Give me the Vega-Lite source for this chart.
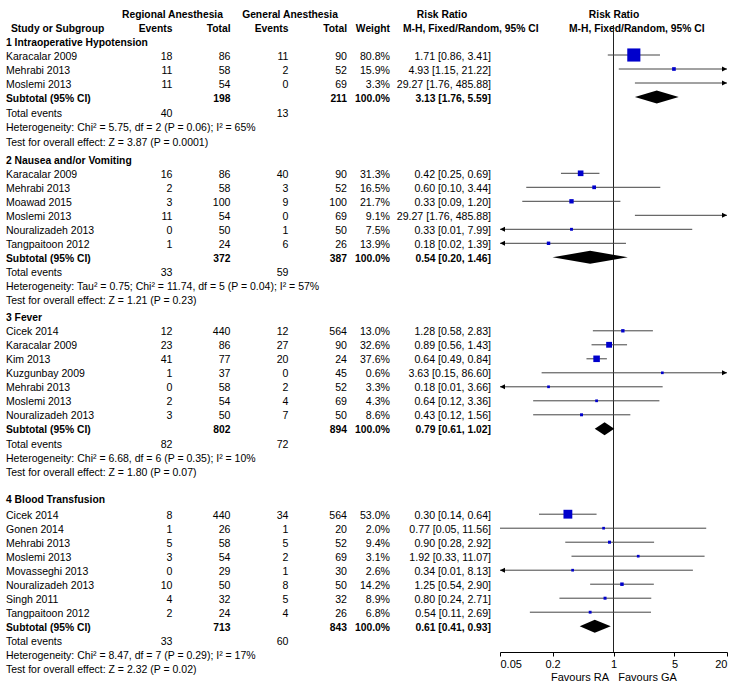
{
  "$schema": "https://vega.github.io/schema/vega-lite/v6.json",
  "width": 737,
  "height": 687,
  "autosize": {"type": "none"},
  "padding": 0,
  "background": "white",
  "config": {
    "view": {"stroke": null},
    "text": {"font": "Liberation Sans", "color": "black"},
    "axis": {"labelFont": "Liberation Sans", "titleFont": "Liberation Sans"}
  },
  "datasets": {
    "table": [
      {"row": 0, "kind": "h1", "ra_h": "Regional Anesthesia", "ga_h": "General Anesthesia", "rr_h": "Risk Ratio", "fp_h": "Risk Ratio"},
      {"row": 1, "kind": "h2", "label": "Study or Subgroup", "ra_e": "Events", "ra_n": "Total", "ga_e": "Events", "ga_n": "Total", "w_h": "Weight", "rr_h": "M-H, Fixed/Random, 95% CI", "fp_h": "M-H, Fixed/Random, 95% CI"},
      {"row": 2, "kind": "group", "label": "1 Intraoperative Hypotension"},
      {"row": 3, "kind": "study", "label": "Karacalar 2009", "ra_e": 18, "ra_n": 86, "ga_e": 11, "ga_n": 90, "weight": 0.808, "rr": 1.71, "lo": 0.86, "hi": 3.41, "ci": "1.71 [0.86, 3.41]"},
      {"row": 4, "kind": "study", "label": "Mehrabi 2013", "ra_e": 11, "ra_n": 58, "ga_e": 2, "ga_n": 52, "weight": 0.159, "rr": 4.93, "lo": 1.15, "hi": 21.22, "ci": "4.93 [1.15, 21.22]"},
      {"row": 5, "kind": "study", "label": "Moslemi 2013", "ra_e": 11, "ra_n": 54, "ga_e": 0, "ga_n": 69, "weight": 0.033, "rr": 29.27, "lo": 1.76, "hi": 485.88, "ci": "29.27 [1.76, 485.88]"},
      {"row": 6, "kind": "subtotal", "label": "Subtotal (95% CI)", "ra_n": 198, "ga_n": 211, "weight": 1, "rr": 3.13, "lo": 1.76, "hi": 5.59, "ci": "3.13 [1.76, 5.59]"},
      {"row": 7.1, "kind": "total", "label": "Total events", "ra_e": 40, "ga_e": 13},
      {"row": 8.1, "kind": "note", "label": "Heterogeneity: Chi² = 5.75, df = 2 (P = 0.06); I² = 65%"},
      {"row": 9.15, "kind": "note", "label": "Test for overall effect: Z = 3.87 (P = 0.0001)"},
      {"row": 10.45, "kind": "group", "label": "2 Nausea and/or Vomiting"},
      {"row": 11.45, "kind": "study", "label": "Karacalar 2009", "ra_e": 16, "ra_n": 86, "ga_e": 40, "ga_n": 90, "weight": 0.313, "rr": 0.42, "lo": 0.25, "hi": 0.69, "ci": "0.42 [0.25, 0.69]"},
      {"row": 12.45, "kind": "study", "label": "Mehrabi 2013", "ra_e": 2, "ra_n": 58, "ga_e": 3, "ga_n": 52, "weight": 0.165, "rr": 0.6, "lo": 0.1, "hi": 3.44, "ci": "0.60 [0.10, 3.44]"},
      {"row": 13.45, "kind": "study", "label": "Moawad 2015", "ra_e": 3, "ra_n": 100, "ga_e": 9, "ga_n": 100, "weight": 0.217, "rr": 0.33, "lo": 0.09, "hi": 1.2, "ci": "0.33 [0.09, 1.20]"},
      {"row": 14.45, "kind": "study", "label": "Moslemi 2013", "ra_e": 11, "ra_n": 54, "ga_e": 0, "ga_n": 69, "weight": 0.091, "rr": 29.27, "lo": 1.76, "hi": 485.88, "ci": "29.27 [1.76, 485.88]"},
      {"row": 15.45, "kind": "study", "label": "Nouralizadeh 2013", "ra_e": 0, "ra_n": 50, "ga_e": 1, "ga_n": 50, "weight": 0.075, "rr": 0.33, "lo": 0.01, "hi": 7.99, "ci": "0.33 [0.01, 7.99]"},
      {"row": 16.45, "kind": "study", "label": "Tangpaitoon 2012", "ra_e": 1, "ra_n": 24, "ga_e": 6, "ga_n": 26, "weight": 0.139, "rr": 0.18, "lo": 0.02, "hi": 1.39, "ci": "0.18 [0.02, 1.39]"},
      {"row": 17.45, "kind": "subtotal", "label": "Subtotal (95% CI)", "ra_n": 372, "ga_n": 387, "weight": 1, "rr": 0.54, "lo": 0.2, "hi": 1.46, "ci": "0.54 [0.20, 1.46]"},
      {"row": 18.5, "kind": "total", "label": "Total events", "ra_e": 33, "ga_e": 59},
      {"row": 19.5, "kind": "note", "label": "Heterogeneity: Tau² = 0.75; Chi² = 11.74, df = 5 (P = 0.04); I² = 57%"},
      {"row": 20.5, "kind": "note", "label": "Test for overall effect: Z = 1.21 (P = 0.23)"},
      {"row": 21.7, "kind": "group", "label": "3 Fever"},
      {"row": 22.7, "kind": "study", "label": "Cicek 2014", "ra_e": 12, "ra_n": 440, "ga_e": 12, "ga_n": 564, "weight": 0.13, "rr": 1.28, "lo": 0.58, "hi": 2.83, "ci": "1.28 [0.58, 2.83]"},
      {"row": 23.7, "kind": "study", "label": "Karacalar 2009", "ra_e": 23, "ra_n": 86, "ga_e": 27, "ga_n": 90, "weight": 0.326, "rr": 0.89, "lo": 0.56, "hi": 1.43, "ci": "0.89 [0.56, 1.43]"},
      {"row": 24.7, "kind": "study", "label": "Kim 2013", "ra_e": 41, "ra_n": 77, "ga_e": 20, "ga_n": 24, "weight": 0.376, "rr": 0.64, "lo": 0.49, "hi": 0.84, "ci": "0.64 [0.49, 0.84]"},
      {"row": 25.7, "kind": "study", "label": "Kuzgunbay 2009", "ra_e": 1, "ra_n": 37, "ga_e": 0, "ga_n": 45, "weight": 0.006, "rr": 3.63, "lo": 0.15, "hi": 86.6, "ci": "3.63 [0.15, 86.60]"},
      {"row": 26.7, "kind": "study", "label": "Mehrabi 2013", "ra_e": 0, "ra_n": 58, "ga_e": 2, "ga_n": 52, "weight": 0.033, "rr": 0.18, "lo": 0.01, "hi": 3.66, "ci": "0.18 [0.01, 3.66]"},
      {"row": 27.7, "kind": "study", "label": "Moslemi 2013", "ra_e": 2, "ra_n": 54, "ga_e": 4, "ga_n": 69, "weight": 0.043, "rr": 0.64, "lo": 0.12, "hi": 3.36, "ci": "0.64 [0.12, 3.36]"},
      {"row": 28.7, "kind": "study", "label": "Nouralizadeh 2013", "ra_e": 3, "ra_n": 50, "ga_e": 7, "ga_n": 50, "weight": 0.086, "rr": 0.43, "lo": 0.12, "hi": 1.56, "ci": "0.43 [0.12, 1.56]"},
      {"row": 29.7, "kind": "subtotal", "label": "Subtotal (95% CI)", "ra_n": 802, "ga_n": 894, "weight": 1, "rr": 0.79, "lo": 0.61, "hi": 1.02, "ci": "0.79 [0.61, 1.02]"},
      {"row": 30.75, "kind": "total", "label": "Total events", "ra_e": 82, "ga_e": 72},
      {"row": 31.75, "kind": "note", "label": "Heterogeneity: Chi² = 6.68, df = 6 (P = 0.35); I² = 10%"},
      {"row": 32.75, "kind": "note", "label": "Test for overall effect: Z = 1.80 (P = 0.07)"},
      {"row": 34.7, "kind": "group", "label": "4 Blood Transfusion"},
      {"row": 35.8, "kind": "study", "label": "Cicek 2014", "ra_e": 8, "ra_n": 440, "ga_e": 34, "ga_n": 564, "weight": 0.53, "rr": 0.3, "lo": 0.14, "hi": 0.64, "ci": "0.30 [0.14, 0.64]"},
      {"row": 36.8, "kind": "study", "label": "Gonen 2014", "ra_e": 1, "ra_n": 26, "ga_e": 1, "ga_n": 20, "weight": 0.02, "rr": 0.77, "lo": 0.05, "hi": 11.56, "ci": "0.77 [0.05, 11.56]"},
      {"row": 37.8, "kind": "study", "label": "Mehrabi 2013", "ra_e": 5, "ra_n": 58, "ga_e": 5, "ga_n": 52, "weight": 0.094, "rr": 0.9, "lo": 0.28, "hi": 2.92, "ci": "0.90 [0.28, 2.92]"},
      {"row": 38.8, "kind": "study", "label": "Moslemi 2013", "ra_e": 3, "ra_n": 54, "ga_e": 2, "ga_n": 69, "weight": 0.031, "rr": 1.92, "lo": 0.33, "hi": 11.07, "ci": "1.92 [0.33, 11.07]"},
      {"row": 39.8, "kind": "study", "label": "Movasseghi 2013", "ra_e": 0, "ra_n": 29, "ga_e": 1, "ga_n": 30, "weight": 0.026, "rr": 0.34, "lo": 0.01, "hi": 8.13, "ci": "0.34 [0.01, 8.13]"},
      {"row": 40.8, "kind": "study", "label": "Nouralizadeh 2013", "ra_e": 10, "ra_n": 50, "ga_e": 8, "ga_n": 50, "weight": 0.142, "rr": 1.25, "lo": 0.54, "hi": 2.9, "ci": "1.25 [0.54, 2.90]"},
      {"row": 41.8, "kind": "study", "label": "Singh 2011", "ra_e": 4, "ra_n": 32, "ga_e": 5, "ga_n": 32, "weight": 0.089, "rr": 0.8, "lo": 0.24, "hi": 2.71, "ci": "0.80 [0.24, 2.71]"},
      {"row": 42.8, "kind": "study", "label": "Tangpaitoon 2012", "ra_e": 2, "ra_n": 24, "ga_e": 4, "ga_n": 26, "weight": 0.068, "rr": 0.54, "lo": 0.11, "hi": 2.69, "ci": "0.54 [0.11, 2.69]"},
      {"row": 43.8, "kind": "subtotal", "label": "Subtotal (95% CI)", "ra_n": 713, "ga_n": 843, "weight": 1, "rr": 0.61, "lo": 0.41, "hi": 0.93, "ci": "0.61 [0.41, 0.93]"},
      {"row": 44.85, "kind": "total", "label": "Total events", "ra_e": 33, "ga_e": 60},
      {"row": 45.85, "kind": "note", "label": "Heterogeneity: Chi² = 8.47, df = 7 (P = 0.29); I² = 17%"},
      {"row": 46.85, "kind": "note", "label": "Test for overall effect: Z = 2.32 (P = 0.02)"}
    ],
    "null_effect": [
      {"ratio": 1, "top": 0.86, "bottom": 45.64}
    ]
  },
  "data": {"name": "table"},
  "encoding": {
    "y": {"field": "row", "type": "quantitative", "scale": {"domain": [-0.9286, 48.143], "reverse": true, "nice": false, "zero": false}, "axis": null}
  },
  "layer": [
    {
      "layer": [
        {
          "data": {"values": [{}]},
          "mark": {"type": "rule", "color": "#666666", "strokeWidth": 1.5},
          "encoding": {
            "x": {"datum": 0, "type": "quantitative", "scale": {"domain": [0, 737], "nice": false, "zero": false}, "axis": null},
            "x2": {"datum": 737},
            "y": {"datum": 1.29, "type": "quantitative"}
          }
        },
        {
          "transform": [{"filter": "isValid(datum.label) && datum.kind !== 'h2'"}],
          "mark": {"type": "text", "align": "left", "baseline": "middle", "dy": 1.5,
                   "fontWeight": {"expr": "indexof(['h1','h2','group','subtotal'], datum.kind) >= 0 ? 'bold' : 'normal'"},
                   "fontSize": {"expr": "indexof(['h1','h2','group','subtotal'], datum.kind) >= 0 ? 10.3 : 10.5"}},
          "encoding": {
            "x": {"datum": 6, "type": "quantitative", "scale": {"domain": [0, 737], "nice": false, "zero": false}, "axis": null},
            "text": {"field": "label", "type": "nominal"}
          }
        },
        {
          "transform": [{"filter": "datum.kind === 'h2'"}],
          "mark": {"type": "text", "align": "left", "baseline": "middle", "dy": 1.5, "fontWeight": "bold", "fontSize": 10.3},
          "encoding": {
            "x": {"datum": 11, "type": "quantitative", "scale": {"domain": [0, 737], "nice": false, "zero": false}, "axis": null},
            "text": {"field": "label", "type": "nominal"}
          }
        },
        {
          "transform": [{"filter": "isValid(datum.ra_e)"}],
          "mark": {"type": "text", "align": "right", "baseline": "middle", "dy": 1.5,
                   "fontWeight": {"expr": "indexof(['h1','h2','group','subtotal'], datum.kind) >= 0 ? 'bold' : 'normal'"},
                   "fontSize": {"expr": "indexof(['h1','h2','group','subtotal'], datum.kind) >= 0 ? 10.3 : 10.6"}},
          "encoding": {
            "x": {"datum": 172.5, "type": "quantitative", "scale": {"domain": [0, 737], "nice": false, "zero": false}, "axis": null},
            "text": {"field": "ra_e", "type": "nominal"}
          }
        },
        {
          "transform": [{"filter": "isValid(datum.ra_n)"}],
          "mark": {"type": "text", "align": "right", "baseline": "middle", "dy": 1.5,
                   "fontWeight": {"expr": "indexof(['h1','h2','group','subtotal'], datum.kind) >= 0 ? 'bold' : 'normal'"},
                   "fontSize": {"expr": "indexof(['h1','h2','group','subtotal'], datum.kind) >= 0 ? 10.3 : 10.6"}},
          "encoding": {
            "x": {"datum": 230.5, "type": "quantitative", "scale": {"domain": [0, 737], "nice": false, "zero": false}, "axis": null},
            "text": {"field": "ra_n", "type": "nominal"}
          }
        },
        {
          "transform": [{"filter": "isValid(datum.ga_e)"}],
          "mark": {"type": "text", "align": "right", "baseline": "middle", "dy": 1.5,
                   "fontWeight": {"expr": "indexof(['h1','h2','group','subtotal'], datum.kind) >= 0 ? 'bold' : 'normal'"},
                   "fontSize": {"expr": "indexof(['h1','h2','group','subtotal'], datum.kind) >= 0 ? 10.3 : 10.6"}},
          "encoding": {
            "x": {"datum": 288.5, "type": "quantitative", "scale": {"domain": [0, 737], "nice": false, "zero": false}, "axis": null},
            "text": {"field": "ga_e", "type": "nominal"}
          }
        },
        {
          "transform": [{"filter": "isValid(datum.ga_n)"}],
          "mark": {"type": "text", "align": "right", "baseline": "middle", "dy": 1.5,
                   "fontWeight": {"expr": "indexof(['h1','h2','group','subtotal'], datum.kind) >= 0 ? 'bold' : 'normal'"},
                   "fontSize": {"expr": "indexof(['h1','h2','group','subtotal'], datum.kind) >= 0 ? 10.3 : 10.6"}},
          "encoding": {
            "x": {"datum": 347, "type": "quantitative", "scale": {"domain": [0, 737], "nice": false, "zero": false}, "axis": null},
            "text": {"field": "ga_n", "type": "nominal"}
          }
        },
        {
          "transform": [{"filter": "isValid(datum.weight)"}],
          "mark": {"type": "text", "align": "right", "baseline": "middle", "dy": 1.5,
                   "fontWeight": {"expr": "indexof(['h1','h2','group','subtotal'], datum.kind) >= 0 ? 'bold' : 'normal'"},
                   "fontSize": {"expr": "indexof(['h1','h2','group','subtotal'], datum.kind) >= 0 ? 10.3 : 10.6"}},
          "encoding": {
            "x": {"datum": 390, "type": "quantitative", "scale": {"domain": [0, 737], "nice": false, "zero": false}, "axis": null},
            "text": {"field": "weight", "type": "quantitative", "format": ".1%"}
          }
        },
        {
          "transform": [{"filter": "isValid(datum.w_h)"}],
          "mark": {"type": "text", "align": "right", "baseline": "middle", "dy": 1.5, "fontWeight": "bold", "fontSize": 10.3},
          "encoding": {
            "x": {"datum": 390, "type": "quantitative", "scale": {"domain": [0, 737], "nice": false, "zero": false}, "axis": null},
            "text": {"field": "w_h", "type": "nominal"}
          }
        },
        {
          "transform": [{"filter": "isValid(datum.ci)"}],
          "mark": {"type": "text", "align": "right", "baseline": "middle", "dy": 1.5,
                   "fontWeight": {"expr": "indexof(['h1','h2','group','subtotal'], datum.kind) >= 0 ? 'bold' : 'normal'"},
                   "fontSize": {"expr": "indexof(['h1','h2','group','subtotal'], datum.kind) >= 0 ? 10.3 : 10.6"}},
          "encoding": {
            "x": {"datum": 491, "type": "quantitative", "scale": {"domain": [0, 737], "nice": false, "zero": false}, "axis": null},
            "text": {"field": "ci", "type": "nominal"}
          }
        },
        {
          "transform": [{"filter": "datum.kind === 'h1'"}],
          "mark": {"type": "text", "align": "center", "baseline": "middle", "dy": 1.5, "fontWeight": "bold", "fontSize": 10.3},
          "encoding": {
            "x": {"datum": 172.5, "type": "quantitative", "scale": {"domain": [0, 737], "nice": false, "zero": false}, "axis": null},
            "text": {"field": "ra_h", "type": "nominal"}
          }
        },
        {
          "transform": [{"filter": "datum.kind === 'h1'"}],
          "mark": {"type": "text", "align": "center", "baseline": "middle", "dy": 1.5, "fontWeight": "bold", "fontSize": 10.3},
          "encoding": {
            "x": {"datum": 290, "type": "quantitative", "scale": {"domain": [0, 737], "nice": false, "zero": false}, "axis": null},
            "text": {"field": "ga_h", "type": "nominal"}
          }
        },
        {
          "transform": [{"filter": "datum.kind === 'h1'"}],
          "mark": {"type": "text", "align": "center", "baseline": "middle", "dy": 1.5, "fontWeight": "bold", "fontSize": 10.3},
          "encoding": {
            "x": {"datum": 442, "type": "quantitative", "scale": {"domain": [0, 737], "nice": false, "zero": false}, "axis": null},
            "text": {"field": "rr_h", "type": "nominal"}
          }
        },
        {
          "transform": [{"filter": "datum.kind === 'h2'"}],
          "mark": {"type": "text", "align": "left", "baseline": "middle", "dy": 1.5, "fontWeight": "bold", "fontSize": 10.3},
          "encoding": {
            "x": {"datum": 403, "type": "quantitative", "scale": {"domain": [0, 737], "nice": false, "zero": false}, "axis": null},
            "text": {"field": "rr_h", "type": "nominal"}
          }
        },
        {
          "transform": [{"filter": "datum.kind === 'h1'"}],
          "mark": {"type": "text", "align": "center", "baseline": "middle", "dy": 1.5, "fontWeight": "bold", "fontSize": 10.3},
          "encoding": {
            "x": {"datum": 614, "type": "quantitative", "scale": {"domain": [0, 737], "nice": false, "zero": false}, "axis": null},
            "text": {"field": "fp_h", "type": "nominal"}
          }
        },
        {
          "transform": [{"filter": "datum.kind === 'h2'"}],
          "mark": {"type": "text", "align": "left", "baseline": "middle", "dy": 1.5, "fontWeight": "bold", "fontSize": 10.3},
          "encoding": {
            "x": {"datum": 569, "type": "quantitative", "scale": {"domain": [0, 737], "nice": false, "zero": false}, "axis": null},
            "text": {"field": "fp_h", "type": "nominal"}
          }
        }
      ]
    },
    {
      "layer": [
        {
          "data": {"name": "null_effect"},
          "mark": {"type": "rule", "color": "#222222", "strokeWidth": 1},
          "encoding": {
            "x": {"field": "ratio", "type": "quantitative",
                  "scale": {"type": "log", "domain": [0.05, 20], "range": [500, 727], "clamp": true, "nice": false},
                  "axis": {"values": [0.05, 0.2, 1, 5, 20], "format": "~g", "offset": -35, "title": "Favours RA\u00a0\u00a0\u00a0Favours GA", "titleFontWeight": "normal", "titleFontSize": 11, "titlePadding": 2, "titleColor": "black", "labelFontSize": 11, "labelPadding": 2, "labelColor": "black", "labelFlush": true, "tickSize": 4, "tickColor": "black", "domainColor": "black", "grid": false}},
            "y": {"field": "top", "type": "quantitative"},
            "y2": {"field": "bottom"}
          }
        },
        {
          "transform": [{"filter": "datum.kind === 'study'"}],
          "mark": {"type": "rule", "color": "#444444", "strokeWidth": 1},
          "encoding": {
            "x": {"field": "lo", "type": "quantitative",
                  "scale": {"type": "log", "domain": [0.05, 20], "range": [500, 727], "clamp": true, "nice": false},
                  "axis": {"values": [0.05, 0.2, 1, 5, 20], "format": "~g", "offset": -35, "title": "Favours RA\u00a0\u00a0\u00a0Favours GA", "titleFontWeight": "normal", "titleFontSize": 11, "titlePadding": 2, "titleColor": "black", "labelFontSize": 11, "labelPadding": 2, "labelColor": "black", "labelFlush": true, "tickSize": 4, "tickColor": "black", "domainColor": "black", "grid": false}},
            "x2": {"field": "hi"}
          }
        },
        {
          "transform": [{"filter": "datum.kind === 'study' && datum.rr >= 0.05 && datum.rr <= 20"}],
          "mark": {"type": "point", "shape": "square", "filled": true, "opacity": 1, "color": "#0000cc", "strokeWidth": 0},
          "encoding": {
            "x": {"field": "rr", "type": "quantitative",
                  "scale": {"type": "log", "domain": [0.05, 20], "range": [500, 727], "clamp": true, "nice": false},
                  "axis": {"values": [0.05, 0.2, 1, 5, 20], "format": "~g", "offset": -35, "title": "Favours RA\u00a0\u00a0\u00a0Favours GA", "titleFontWeight": "normal", "titleFontSize": 11, "titlePadding": 2, "titleColor": "black", "labelFontSize": 11, "labelPadding": 2, "labelColor": "black", "labelFlush": true, "tickSize": 4, "tickColor": "black", "domainColor": "black", "grid": false}},
            "size": {"field": "weight", "type": "quantitative", "scale": {"type": "pow", "exponent": 2, "domain": [0, 1], "range": [7, 260]}, "legend": null}
          }
        },
        {
          "transform": [{"filter": "datum.kind === 'study' && datum.hi > 20"}],
          "mark": {"type": "point", "shape": "M0,0L-2,-1L-2,1Z", "size": 25, "filled": true, "opacity": 1, "color": "black", "strokeWidth": 0},
          "encoding": {
            "x": {"field": "hi", "type": "quantitative",
                  "scale": {"type": "log", "domain": [0.05, 20], "range": [500, 727], "clamp": true, "nice": false},
                  "axis": {"values": [0.05, 0.2, 1, 5, 20], "format": "~g", "offset": -35, "title": "Favours RA\u00a0\u00a0\u00a0Favours GA", "titleFontWeight": "normal", "titleFontSize": 11, "titlePadding": 2, "titleColor": "black", "labelFontSize": 11, "labelPadding": 2, "labelColor": "black", "labelFlush": true, "tickSize": 4, "tickColor": "black", "domainColor": "black", "grid": false}}
          }
        },
        {
          "transform": [{"filter": "datum.kind === 'study' && datum.lo < 0.05"}],
          "mark": {"type": "point", "shape": "M0,0L2,-1L2,1Z", "size": 25, "filled": true, "opacity": 1, "color": "black", "strokeWidth": 0},
          "encoding": {
            "x": {"field": "lo", "type": "quantitative",
                  "scale": {"type": "log", "domain": [0.05, 20], "range": [500, 727], "clamp": true, "nice": false},
                  "axis": {"values": [0.05, 0.2, 1, 5, 20], "format": "~g", "offset": -35, "title": "Favours RA\u00a0\u00a0\u00a0Favours GA", "titleFontWeight": "normal", "titleFontSize": 11, "titlePadding": 2, "titleColor": "black", "labelFontSize": 11, "labelPadding": 2, "labelColor": "black", "labelFlush": true, "tickSize": 4, "tickColor": "black", "domainColor": "black", "grid": false}}
          }
        },
        {
          "transform": [
            {"filter": "datum.kind === 'subtotal'"},
            {"fold": ["lo", "rr", "hi"], "as": ["k", "v"]}
          ],
          "mark": {"type": "area", "color": "black", "opacity": 1,
                   "yOffset": {"expr": "datum.k === 'rr' ? -6.5 : 0"},
                   "y2Offset": {"expr": "datum.k === 'rr' ? 6.5 : 0"}},
          "encoding": {
            "x": {"field": "v", "type": "quantitative",
                  "scale": {"type": "log", "domain": [0.05, 20], "range": [500, 727], "clamp": true, "nice": false},
                  "axis": {"values": [0.05, 0.2, 1, 5, 20], "format": "~g", "offset": -35, "title": "Favours RA\u00a0\u00a0\u00a0Favours GA", "titleFontWeight": "normal", "titleFontSize": 11, "titlePadding": 2, "titleColor": "black", "labelFontSize": 11, "labelPadding": 2, "labelColor": "black", "labelFlush": true, "tickSize": 4, "tickColor": "black", "domainColor": "black", "grid": false}},
            "y": {"field": "row", "type": "quantitative", "stack": null},
            "y2": {"field": "row"},
            "detail": {"field": "row", "type": "nominal"}
          }
        }
      ]
    }
  ],
  "resolve": {"scale": {"x": "independent"}, "axis": {"x": "independent"}}
}
